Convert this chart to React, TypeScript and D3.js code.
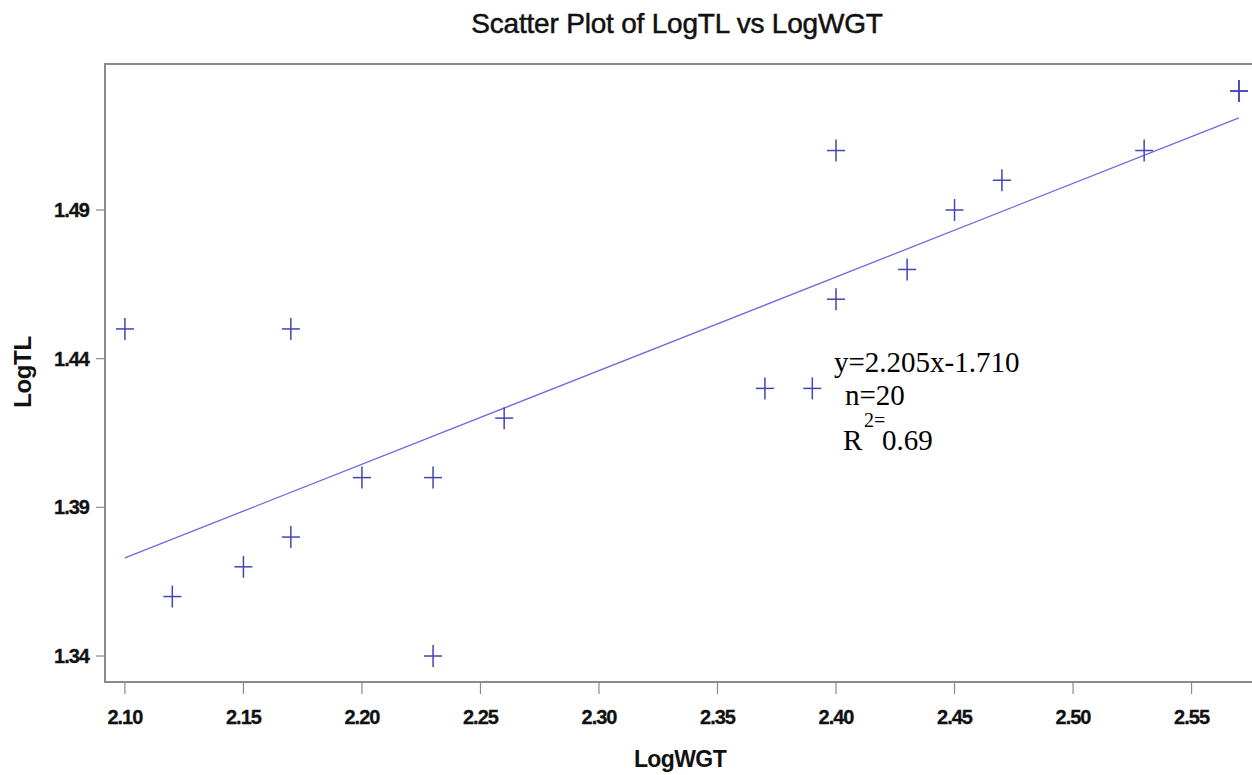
import React from "react";
import * as d3 from "d3";

const logWGT = [2.1, 2.12, 2.15, 2.17, 2.17, 2.2, 2.23, 2.23, 2.26, 2.37, 2.39, 2.4, 2.4, 2.43, 2.45, 2.47, 2.53, 2.57, 2.57];
const logTL = [1.45, 1.36, 1.37, 1.38, 1.45, 1.4, 1.4, 1.34, 1.42, 1.43, 1.43, 1.51, 1.46, 1.47, 1.49, 1.5, 1.51, 1.53, 1.53];

const xTicks = [2.1, 2.15, 2.2, 2.25, 2.3, 2.35, 2.4, 2.45, 2.5, 2.55];
const yTicks = [1.34, 1.39, 1.44, 1.49];

// fitted line end points
const fitX = [2.1, 2.57];
const fitY = [1.373, 1.521];

const W = 1252;
const H = 775;
const frame = { left: 105, right: 1252, top: 64, bottom: 682 };

const App = () => {
  const x = d3.scaleLinear().domain([2.0916, 2.5755]).range([frame.left, frame.right]);
  const y = d3.scaleLinear().domain([1.33126, 1.5391]).range([frame.bottom, frame.top]);

  const points = logWGT.map((v, i) => ({ x: v, y: logTL[i] }));
  const line = d3
    .line<number>()
    .x((d) => x(d))
    .y((_, i) => y(fitY[i]));

  const sans = "'Liberation Sans', Arial, sans-serif";
  const tickFont = { fontFamily: sans, fontWeight: 700, fontSize: 20, letterSpacing: -1 };
  const axisColor = "#8a8a8a";
  const markColor = "#4444b4";

  return (
    <div style={{ position: "absolute", left: 0, top: 0 }}>
      <svg width={W} height={H} style={{ display: "block", background: "#fff" }}>
        <text
          x={677}
          y={33}
          textAnchor="middle"
          fontFamily={sans}
          fontSize={28}
          letterSpacing={-0.2}
          fill="#111"
          stroke="#111"
          strokeWidth={0.5}
        >
          Scatter Plot of LogTL vs LogWGT
        </text>

        {/* frame */}
        <path
          d={`M${frame.right},${frame.top}H${frame.left}V${frame.bottom}H${frame.right}`}
          fill="none"
          stroke={axisColor}
          strokeWidth={2}
        />

        {xTicks.map((t) => (
          <g key={t} transform={`translate(${x(t)},${frame.bottom})`}>
            <line y1={1} y2={12} stroke={axisColor} strokeWidth={1.2} />
            <text y={42} textAnchor="middle" fill="#111" stroke="#111" strokeWidth={0.3} {...tickFont}>
              {t.toFixed(2)}
            </text>
          </g>
        ))}

        {yTicks.map((t) => (
          <g key={t} transform={`translate(${frame.left},${y(t)})`}>
            <line x1={-1} x2={-9} stroke={axisColor} strokeWidth={1.2} />
            <text x={-16} dy="0.35em" textAnchor="end" fill="#111" stroke="#111" strokeWidth={0.3} {...tickFont}>
              {t.toFixed(2)}
            </text>
          </g>
        ))}

        <text
          x={680}
          y={767}
          textAnchor="middle"
          fill="#111"
          fontFamily={sans}
          fontWeight={700}
          fontSize={23}
          letterSpacing={-0.6}
        >
          LogWGT
        </text>
        <text
          transform={`translate(31,372) rotate(-90)`}
          textAnchor="middle"
          fill="#111"
          fontFamily={sans}
          fontWeight={700}
          fontSize={24}
          letterSpacing={-0.4}
        >
          LogTL
        </text>

        <path d={line(fitX) || ""} fill="none" stroke="#6a6ae0" strokeWidth={1.3} />

        {points.map((p, i) => (
          <g key={i} transform={`translate(${x(p.x)},${y(p.y)})`}>
            <line x1={-9} x2={9} stroke={markColor} strokeWidth={1.5} />
            <line y1={-11} y2={11} stroke={markColor} strokeWidth={1.5} />
          </g>
        ))}

        <g fontFamily="'Liberation Serif', 'Times New Roman', serif" fill="#000">
          <text x={834} y={372} fontSize={29}>
            y=2.205x-1.710
          </text>
          <text x={845} y={405} fontSize={29}>
            n=20
          </text>
          <text x={843} y={450} fontSize={29}>
            R
          </text>
          <text x={864} y={427} fontSize={20}>
            2=
          </text>
          <text x={882} y={450} fontSize={29}>
            0.69
          </text>
        </g>
      </svg>
    </div>
  );
};

export default App;
